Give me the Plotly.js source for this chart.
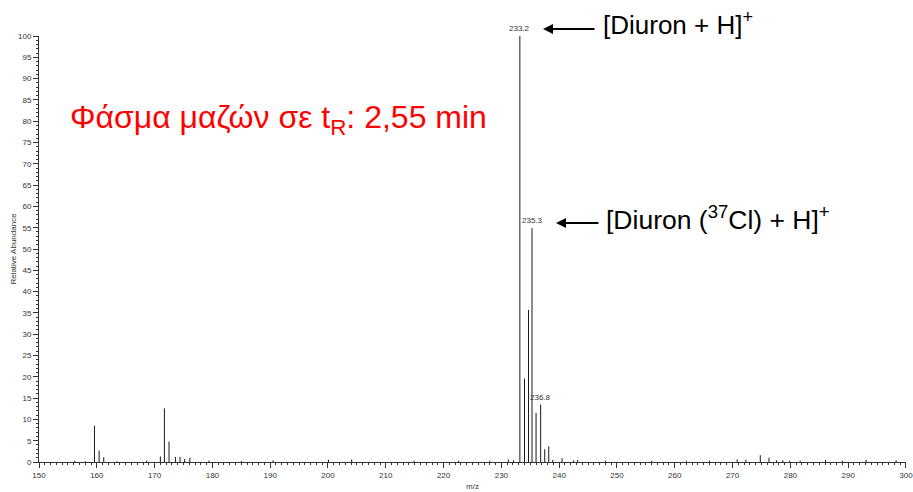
<!DOCTYPE html>
<html>
<head>
<meta charset="utf-8">
<script src="https://cdn.plot.ly/plotly-3.0.1.min.js"></script>
<style>html,body{margin:0;padding:0;background:#fff;}#chart{width:913px;height:492px;}</style>
</head>
<body>
<div id="chart"></div>
<script>
// m/z values and relative abundances
const mz = [156.2, 158.0, 159.6, 160.4, 161.2, 163.5, 168.6, 171.0, 171.7, 172.5, 173.6, 174.4, 175.2, 176.1,
  179.4, 185.0, 190.5, 200.1, 204.1, 214.9, 222.6, 228.0, 231.2, 232.1,
  233.2, 234.0, 234.7, 235.3, 236.0, 236.8, 237.5, 238.2, 238.9, 240.5,
  242.5, 243.2, 248.0, 256.0, 262.0, 266.0, 270.8, 272.3, 274.8, 276.3, 277.6, 278.7, 279.9, 281.7,
  286.1, 289.0, 293.1, 298.3];
const abundance = [0.3, 0.2, 8.5, 2.7, 1.1, 0.2, 0.3, 1.3, 12.6, 4.8, 1.2, 1.2, 0.7, 1.0,
  0.3, 0.2, 0.4, 0.5, 0.6, 0.3, 0.3, 0.3, 0.6, 0.4,
  100, 19.6, 35.7, 54.9, 11.5, 13.5, 3.0, 3.7, 0.5, 0.9,
  0.4, 0.5, 0.3, 0.3, 0.3, 0.3, 0.6, 0.5, 1.6, 1.0, 0.4, 0.4, 0.3, 0.3,
  0.5, 0.3, 0.5, 0.4];
const peakLabels = ["233.2", "235.3", "236.8"];
const peakLabelMz = [233.2, 235.3, 236.8];
const peakLabelAb = [100, 54.9, 13.5];
const xTickVals = [150,160,170,180,190,200,210,220,230,240,250,260,270,280,290,300];
const yTickVals = [0,5,10,15,20,25,30,35,40,45,50,55,60,65,70,75,80,85,90,95,100];

const FONT = "Liberation Sans, Arial, sans-serif";

// stick spectrum: each peak drawn as a vertical segment from 0 to its abundance
const sx = [], sy = [];
mz.forEach((m, i) => { sx.push(m, m, null); sy.push(0, abundance[i], null); });
const trace = {
  type: 'scatter', mode: 'lines',
  x: sx, y: sy,
  line: {color: '#1a1a1a', width: 1},
  hoverinfo: 'skip', cliponaxis: true
};

const annotations = peakLabels.map((t, i) => ({
  x: peakLabelMz[i], y: peakLabelAb[i], xref: 'x', yref: 'y',
  text: t, showarrow: false, yanchor: 'bottom', xanchor: 'center', yshift: 1,
  font: {family: FONT, size: 8, color: '#333'}
}));

annotations.push(
  {xref: 'paper', yref: 'paper', x: 0.0334, y: 0.803, xanchor: 'left', yanchor: 'middle',
   text: 'Φάσμα μαζών σε t<sub>R</sub>: 2,55 min', showarrow: false,
   font: {family: FONT, size: 32, color: '#ff0000'}},
  {xref: 'paper', yref: 'paper', x: 0.648, y: 1.03, xanchor: 'left', yanchor: 'middle',
   text: '[Diuron + H]<sup>+</sup>', showarrow: false,
   font: {family: FONT, size: 26, color: '#000'}},
  {xref: 'paper', yref: 'paper', x: 0.652, y: 0.572, xanchor: 'left', yanchor: 'middle',
   text: '[Diuron (<sup>37</sup>Cl) + H]<sup>+</sup>', showarrow: false,
   font: {family: FONT, size: 26.5, color: '#000'}},
  {xref: 'paper', yref: 'paper', x: 0.5813, y: 1.0164, text: '', showarrow: true,
   ax: 53, ay: 0, arrowhead: 2, arrowsize: 1, arrowwidth: 2, arrowcolor: '#000', standoff: 0},
  {xref: 'paper', yref: 'paper', x: 0.5963, y: 0.561, text: '', showarrow: true,
   ax: 44, ay: 0, arrowhead: 2, arrowsize: 1, arrowwidth: 2, arrowcolor: '#000', standoff: 0}
);

const layout = {
  width: 913, height: 492,
  margin: {l: 39, r: 7, t: 36, b: 30},
  paper_bgcolor: '#fff', plot_bgcolor: '#fff',
  showlegend: false,
  font: {family: FONT, size: 8, color: '#333'},
  xaxis: {
    range: [150, 300.01], tickvals: xTickVals, ticktext: xTickVals.map(String),
    ticks: 'outside', ticklen: 5, tickwidth: 1, tickcolor: '#333',
    showline: true, linecolor: '#333', linewidth: 1,
    showgrid: false, zeroline: false, automargin: false, ticklabeloverflow: 'allow',
    minor: {dtick: 1, tick0: 150, ticks: 'outside', ticklen: 2, tickcolor: '#333', showgrid: false},
    tickfont: {family: FONT, size: 8, color: '#333'},
    title: {text: 'm/z', standoff: 4, font: {family: FONT, size: 8, color: '#333'}}
  },
  yaxis: {
    range: [0, 100.01], tickvals: yTickVals, ticktext: yTickVals.map(String),
    ticks: 'outside', ticklen: 5, tickwidth: 1, tickcolor: '#333',
    showline: true, linecolor: '#333', linewidth: 1,
    showgrid: false, zeroline: false, automargin: false, ticklabeloverflow: 'allow',
    minor: {dtick: 1, tick0: 0, ticks: 'outside', ticklen: 2, tickcolor: '#333', showgrid: false},
    tickfont: {family: FONT, size: 8, color: '#333'},
    title: {text: 'Relative Abundance', standoff: 0, font: {family: FONT, size: 8, color: '#333'}}
  },
  annotations: annotations
};

Plotly.newPlot('chart', [trace], layout, {staticPlot: true, displayModeBar: false});
</script>
</body>
</html>
